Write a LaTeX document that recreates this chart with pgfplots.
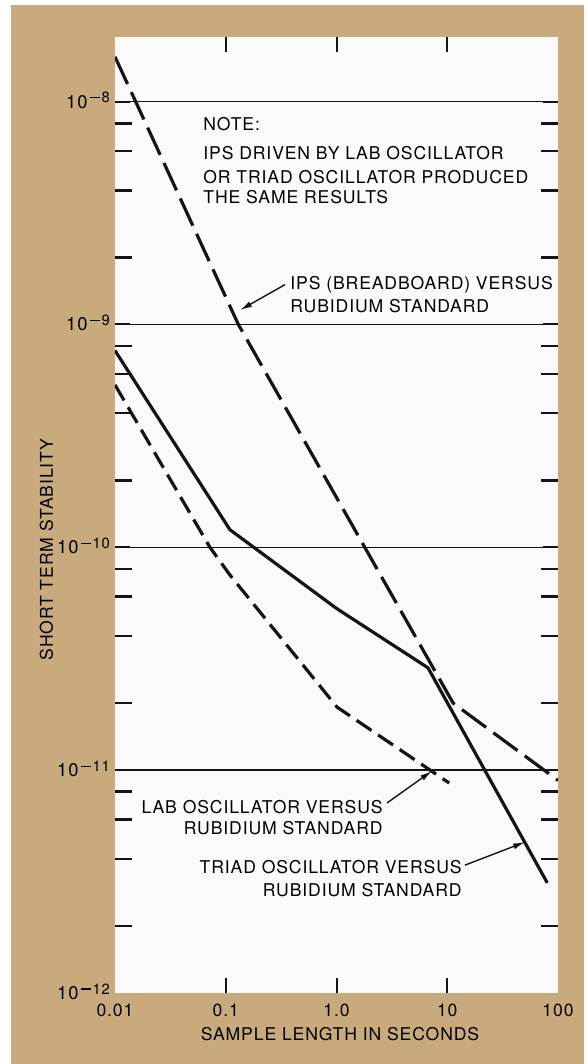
\documentclass[border=0pt]{standalone}
\usepackage{fontspec}
\setmainfont{TeX Gyre Heros}[LetterSpace=5]
\usepackage{pgfplots}
\pgfplotsset{compat=1.18}
\usetikzlibrary{arrows.meta}
\definecolor{tanbg}{RGB}{201,170,124}
\definecolor{plotbg}{RGB}{250,250,253}
\definecolor{ink}{RGB}{20,20,20}
\newcommand{\lbl}{\fontsize{8.8}{10}\selectfont}
\newcommand{\ee}[1]{{\fontsize{9.2}{10}\selectfont 10}\hspace{1.2pt}\raisebox{2.6pt}{\fontsize{7.4}{8}\selectfont\rule[0.3em]{5pt}{0.65pt}\hspace{0.9pt}#1}}
\begin{document}
\begin{tikzpicture}[font=\lbl]
\fill[white] (-57.5pt,-35.5pt) rectangle (234.5pt,496.5pt);
\useasboundingbox (-57.5pt,-35.5pt) rectangle (234.5pt,496.5pt);
\fill[tanbg] (-52pt,-35.5pt) rectangle (234.5pt,494pt);
\begin{axis}[
  at={(0,0)}, anchor=south west,
  scale only axis, width=221.5pt, height=478pt,
  xmode=log, ymode=log,
  xmin=0.01, xmax=100, ymin=1e-12, ymax=1.95e-8,
  axis background/.style={fill=plotbg},
  axis line style={draw=none},
  xtick={0.1,1,10}, xticklabels={0.1,1.0,10},
  extra x ticks={0.01,100}, extra x tick labels={0.01,100\hspace{7pt}},
  extra x tick style={major tick length=0pt},
  xminorticks=false,
  ytick={1e-11,1e-10,1e-9,1e-8},
  yticklabels={\ee{11},\ee{10},\ee{9},\ee{8}},
  extra y ticks={1e-12}, extra y tick labels={\ee{12}},
  extra y tick style={major tick length=0pt, grid=none},
  minor ytick={2e-12,4e-12,6e-12,8e-12,2e-11,4e-11,6e-11,8e-11,2e-10,4e-10,6e-10,8e-10,2e-9,4e-9,6e-9,8e-9},
  ymajorgrids, major grid style={ink, line width=0.8pt},
  major tick length=7.5pt, minor tick length=8.5pt,
  tick style={ink, line width=1pt},
  minor tick style={ink, line width=1.3pt},
  ticklabel style={font=\lbl},
  label style={font=\lbl},
  xticklabel style={anchor=base, yshift=-11.5pt},
  yticklabel style={anchor=base east, yshift=-3.2pt, xshift=1pt},
  xlabel={SAMPLE LENGTH IN SECONDS},
  xlabel style={at={(axis description cs:0.5079,-0.04916)}, anchor=base},
  ylabel={SHORT TERM STABILITY},
  ylabel style={at={(axis description cs:-0.13995,0.4639)}, anchor=base, rotate=0},
]
% IPS (breadboard) versus rubidium standard
\addplot[ink, line width=1.6pt, dash pattern=on 15pt off 4.5pt] coordinates {
  (0.01,1.59e-8) (0.13,1.0e-9) (11.3,2.0e-11) (100,9.0e-12)};
% Triad oscillator versus rubidium standard
\addplot[ink, line width=1.6pt] coordinates {
  (0.01,7.64e-10) (0.109,1.2e-10) (1.0,5.32e-11) (6.7,2.88e-11) (80,3.12e-12)};
% Lab oscillator versus rubidium standard
\addplot[ink, line width=1.6pt, dash pattern=on 9pt off 4pt] coordinates {
  (0.01,5.36e-10) (0.072,1.0e-10) (0.109,7.52e-11) (1.01,1.92e-11) (10.4,8.76e-12)};
\draw[ink, line width=0.7pt, -{Latex[length=6pt,width=3pt]}] (axis cs:0.343,1.51e-9) -- (axis cs:0.1345,1.16e-9);
\draw[ink, line width=0.7pt, -{Latex[length=6pt,width=3pt]}] (axis cs:2.86,7.13e-12) -- (axis cs:7.28,9.92e-12);
\draw[ink, line width=0.7pt, -{Latex[length=6pt,width=3pt]}] (axis cs:14.45,3.75e-12) -- (axis cs:50.4,4.76e-12);
\end{axis}
\node[anchor=base west, inner sep=0pt] at (44pt,431.15pt) {NOTE:};
\node[anchor=base west, inner sep=0pt] at (44pt,416.85pt) {IPS DRIVEN BY LAB OSCILLATOR};
\node[anchor=base west, inner sep=0pt] at (44pt,404.85pt) {OR TRIAD OSCILLATOR PRODUCED};
\node[anchor=base west, inner sep=0pt] at (44pt,394.5pt) {THE SAME RESULTS};
\node[anchor=base west, inner sep=0pt] at (87.5pt,351.5pt) {IPS (BREADBOARD) VERSUS};
\node[anchor=base west, inner sep=0pt] at (87.5pt,340.35pt) {RUBIDIUM STANDARD};
\node[anchor=base east, inner sep=0pt] at (134pt,89.85pt) {LAB OSCILLATOR VERSUS};
\node[anchor=base east, inner sep=0pt] at (134pt,79pt) {RUBIDIUM STANDARD};
\node[anchor=base east, inner sep=0pt] at (173.5pt,59.85pt) {TRIAD OSCILLATOR VERSUS};
\node[anchor=base east, inner sep=0pt] at (173.5pt,48.15pt) {RUBIDIUM STANDARD};
\end{tikzpicture}
\end{document}
